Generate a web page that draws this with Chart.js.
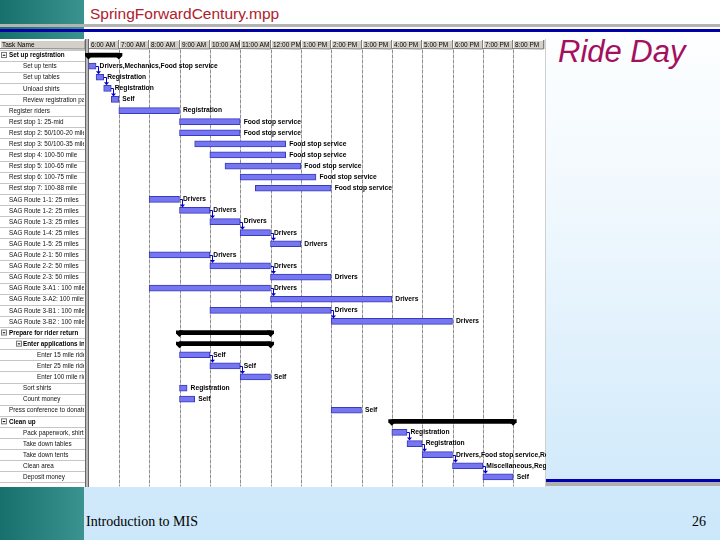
<!DOCTYPE html>
<html><head><meta charset="utf-8">
<script src="https://cdn.jsdelivr.net/npm/chart.js@4/dist/chart.umd.min.js"></script>
<style>
html,body{margin:0;padding:0;}
body{width:720px;height:540px;position:relative;overflow:hidden;background:linear-gradient(to bottom,#ffffff 0%,#f2f9fe 35%,#cbe7fa 100%);font-family:"Liberation Sans",Arial,sans-serif;}
#teal{position:absolute;left:0;top:0;width:84px;height:540px;background:linear-gradient(to right,#17706c,#3b938f);}
.line{position:absolute;left:0;width:720px;}
#g1{top:23.5px;height:3px;background:#b3b3b3;}
#b1{top:28.5px;height:3px;background:#0000a8;}
#b2{top:478.5px;height:3.5px;background:#0000b0;}
#g2{top:482px;height:3.5px;background:#b0b0b0;}
.t{position:absolute;line-height:1;white-space:nowrap;}
#title{left:90px;top:6px;font-size:15.5px;color:#b0202a;}
#ride{left:558px;top:36px;font-size:31px;font-style:italic;color:#a31060;}
#foot{left:86px;top:515px;font-size:14px;font-family:"Liberation Serif","Times New Roman",serif;color:#000;}
#page{left:692px;top:515px;font-size:14px;font-family:"Liberation Serif","Times New Roman",serif;color:#000;}
#wrap{position:absolute;left:0;top:39px;width:546px;height:448px;background:#fff;}
#c{display:block;}
</style></head>
<body>
<div id="teal"></div>
<div class="line" id="g1"></div>
<div class="line" id="b1"></div>
<div class="line" id="b2"></div>
<div class="line" id="g2"></div>
<div class="t" id="title">SpringForwardCentury.mpp</div>
<div class="t" id="ride">Ride Day</div>
<div class="t" id="foot">Introduction to MIS</div>
<div class="t" id="page">26</div>
<div id="wrap"><canvas id="c" width="546" height="448"></canvas></div>
<script>
const hourLabels = ['6:00 AM','7:00 AM','8:00 AM','9:00 AM','10:00 AM','11:00 AM','12:00 PM','1:00 PM','2:00 PM','3:00 PM','4:00 PM','5:00 PM','6:00 PM','7:00 PM','8:00 PM'];
const firstHour = 6;

const taskNames = [
 'Set up registration','Set up tents','Set up tables','Unload shirts','Review registration packets',
 'Register riders','Rest stop 1: 25-mid','Rest stop 2: 50/100-20 mile','Rest stop 3: 50/100-35 mile',
 'Rest stop 4: 100-50 mile','Rest stop 5: 100-65 mile','Rest stop 6: 100-75 mile','Rest stop 7: 100-88 mile',
 'SAG Route 1-1: 25 miles','SAG Route 1-2: 25 miles','SAG Route 1-3: 25 miles','SAG Route 1-4: 25 miles',
 'SAG Route 1-5: 25 miles','SAG Route 2-1: 50 miles','SAG Route 2-2: 50 miles','SAG Route 2-3: 50 miles',
 'SAG Route 3-A1 : 100 miles','SAG Route 3-A2: 100 miles','SAG Route 3-B1 : 100 miles','SAG Route 3-B2 : 100 miles',
 'Prepare for rider return','Enter applications into database','Enter 15 mile riders','Enter 25 mile riders',
 'Enter 100 mile riders','Sort shirts','Count money','Press conference to donate','Clean up',
 'Pack paperwork, shirts','Take down tables','Take down tents','Clean area','Deposit money'];
const taskLevel = [0,1,1,1,1,0,0,0,0,0,0,0,0,0,0,0,0,0,0,0,0,0,0,0,0,0,1,2,2,2,1,1,0,0,1,1,1,1,1];
const isSummary = [1,0,0,0,0,0,0,0,0,0,0,0,0,0,0,0,0,0,0,0,0,0,0,0,0,1,1,0,0,0,0,0,0,1,0,0,0,0,0];
const startHour = [6,6,6.25,6.5,6.75,7,9,9,9.5,10,10.5,11,11.5,8,9,10,11,12,8,10,12,8,12,10,14,9,9,9,10,11,9,9,14,16,16,16.5,17,18,19];
const endHour   = [7,6.25,6.5,6.75,7,9,11,11,12.5,12.5,13,13.5,14,9,10,11,12,13,10,12,14,12,16,14,18,12,12,10,11,12,9.25,9.5,15,20,16.5,17,18,19,20];
const resourceNames = ['','Drivers,Mechanics,Food stop service','Registration','Registration','Self','Registration',
 'Food stop service','Food stop service','Food stop service','Food stop service','Food stop service','Food stop service','Food stop service',
 'Drivers','Drivers','Drivers','Drivers','Drivers','Drivers','Drivers','Drivers','Drivers','Drivers','Drivers','Drivers',
 '','','Self','Self','Self','Registration','Self','Self','',
 'Registration','Registration','Drivers,Food stop service,Registration','Miscellaneous,Registration','Self'];
const links = [[1,2],[2,3],[3,4],[13,14],[14,15],[15,16],[16,17],[18,19],[19,20],[21,22],[23,24],[27,28],[28,29],[34,35],[35,36],[36,37],[37,38]];

const SF = '"Liberation Sans", Arial, sans-serif';

const ganttPlugin = {
  id: 'gantt',
  beforeDatasetsDraw(chart) {
    const {ctx, chartArea: a, scales: {x, y}} = chart;
    const band = (a.bottom - a.top) / taskNames.length;
    ctx.save();
    ctx.strokeStyle = '#8e8e8e'; ctx.lineWidth = 1; ctx.setLineDash([4,1]);
    for (let h = firstHour + 1; h < firstHour + hourLabels.length; h++) {
      const px = Math.round(x.getPixelForValue(h)) + 0.5;
      ctx.beginPath(); ctx.moveTo(px, a.top); ctx.lineTo(px, a.bottom + 4); ctx.stroke();
    }
    ctx.setLineDash([]);
    const colW = 85.5;
    ctx.fillStyle = '#ffffff'; ctx.fillRect(0, 0, colW, chart.height);
    ctx.strokeStyle = '#c6c6c6';
    for (let i = 0; i <= taskNames.length; i++) {
      const yy = Math.round(a.top + i * band) + 0.5;
      ctx.beginPath(); ctx.moveTo(0, yy); ctx.lineTo(colW, yy); ctx.stroke();
    }
    ctx.save();
    ctx.beginPath(); ctx.rect(0, a.top, colW - 1.5, a.bottom - a.top + 5); ctx.clip();
    ctx.textBaseline = 'middle'; ctx.fillStyle = '#000';
    taskNames.forEach((name, i) => {
      const yc = y.getPixelForValue(i);
      const lvl = taskLevel[i];
      let tx = [9, 23, 37][lvl];
      if (isSummary[i]) {
        const ix = lvl === 0 ? 1.5 : 16.5;
        ctx.fillStyle = '#fff'; ctx.fillRect(ix, yc - 2.5, 5, 5);
        ctx.strokeStyle = '#7a7a7a'; ctx.strokeRect(ix, yc - 2.5, 5, 5);
        ctx.strokeStyle = '#000'; ctx.beginPath(); ctx.moveTo(ix + 1.2, yc + 0.2); ctx.lineTo(ix + 3.8, yc + 0.2); ctx.stroke();
        ctx.fillStyle = '#000';
        ctx.font = 'bold 6.3px ' + SF;
      } else {
        ctx.fillStyle = '#111';
        ctx.font = '6.3px ' + SF;
      }
      ctx.fillText(name, tx, yc + 0.5);
    });
    ctx.restore();
    const hb = a.top - 0.5;
    ctx.fillStyle = '#d4d0c8'; ctx.fillRect(0, 1, chart.width, hb - 1);
    ctx.font = '6.5px ' + SF; ctx.textBaseline = 'middle';
    const cell = (x0, x1, label) => {
      ctx.strokeStyle = '#ffffff'; ctx.beginPath(); ctx.moveTo(x0 + 0.5, hb); ctx.lineTo(x0 + 0.5, 1.5); ctx.lineTo(x1, 1.5); ctx.stroke();
      ctx.strokeStyle = '#808080'; ctx.beginPath(); ctx.moveTo(x1 - 0.5, 1); ctx.lineTo(x1 - 0.5, hb); ctx.lineTo(x0, hb - 0.5); ctx.stroke();
      ctx.fillStyle = '#000'; ctx.fillText(label, x0 + 2, (1 + hb) / 2 + 0.5);
    };
    cell(0, colW, 'Task Name');
    hourLabels.forEach((lab, k) => {
      const x0 = Math.round(x.getPixelForValue(firstHour + k));
      const x1 = Math.round(x.getPixelForValue(firstHour + k + 1));
      cell(x0, x1, lab);
    });
    ctx.fillStyle = '#b9b9b9'; ctx.fillRect(85.5, 0, 3, chart.height);
    ctx.strokeStyle = '#666'; ctx.beginPath();
    ctx.moveTo(85.5, 0); ctx.lineTo(85.5, chart.height);
    ctx.moveTo(88.5, 0); ctx.lineTo(88.5, chart.height); ctx.stroke();
    ctx.strokeStyle = '#cfcfcf'; ctx.beginPath(); ctx.moveTo(chart.width - 0.5, 0); ctx.lineTo(chart.width - 0.5, chart.height); ctx.stroke();
    ctx.restore();
  },
  afterDatasetsDraw(chart) {
    const {ctx, scales: {x, y}} = chart;
    ctx.save();
    ctx.fillStyle = '#000';
    taskNames.forEach((n, i) => {
      if (!isSummary[i]) return;
      const yc = y.getPixelForValue(i);
      [startHour[i], endHour[i]].forEach(h => {
        const px = x.getPixelForValue(h);
        ctx.beginPath(); ctx.moveTo(px - 3.5, yc - 2); ctx.lineTo(px + 3.5, yc - 2); ctx.lineTo(px + 3.5, yc + 1);
        ctx.lineTo(px, yc + 4.5); ctx.lineTo(px - 3.5, yc + 1); ctx.closePath(); ctx.fill();
      });
    });
    ctx.strokeStyle = '#0000c8'; ctx.fillStyle = '#0000c8'; ctx.lineWidth = 1;
    links.forEach(([a, b]) => {
      const x1 = Math.round(x.getPixelForValue(endHour[a]));
      const y1 = Math.round(y.getPixelForValue(a)) + 0.5;
      const topB = y.getPixelForValue(b) - 3;
      const vx = x1 + 2.5;
      ctx.beginPath(); ctx.moveTo(x1, y1); ctx.lineTo(vx, y1); ctx.lineTo(vx, topB - 2.5); ctx.stroke();
      ctx.beginPath(); ctx.moveTo(vx - 2.5, topB - 3); ctx.lineTo(vx + 2.5, topB - 3); ctx.lineTo(vx, topB); ctx.closePath(); ctx.fill();
    });
    ctx.fillStyle = '#000'; ctx.font = 'bold 6.7px ' + SF; ctx.textBaseline = 'middle';
    resourceNames.forEach((r, i) => {
      if (!r) return;
      ctx.fillText(r, x.getPixelForValue(endHour[i]) + 3.5, y.getPixelForValue(i));
    });
    ctx.restore();
  }
};

new Chart(document.getElementById('c'), {
  type: 'bar',
  data: {
    labels: taskNames,
    datasets: [
      {
        label: 'Tasks',
        data: taskNames.map((n, i) => isSummary[i] ? null : [startHour[i], endHour[i]]),
        backgroundColor: '#7676f0', borderColor: '#3a3abf', borderWidth: 1, borderSkipped: false,
        barThickness: 6, grouped: false
      },
      {
        label: 'Summary',
        data: taskNames.map((n, i) => isSummary[i] ? [startHour[i], endHour[i]] : null),
        backgroundColor: '#000000', borderWidth: 0,
        barThickness: 4, grouped: false
      }
    ]
  },
  options: {
    indexAxis: 'y', responsive: false, animation: false,
    layout: {padding: {left: 88.5, right: 2.5, top: 10.5, bottom: 4.6}},
    scales: {
      x: {type: 'linear', min: firstHour, max: firstHour + hourLabels.length, display: false},
      y: {type: 'category', display: false, offset: true}
    },
    plugins: {legend: {display: false}, tooltip: {enabled: false}}
  },
  plugins: [ganttPlugin]
});
</script>
</body></html>
